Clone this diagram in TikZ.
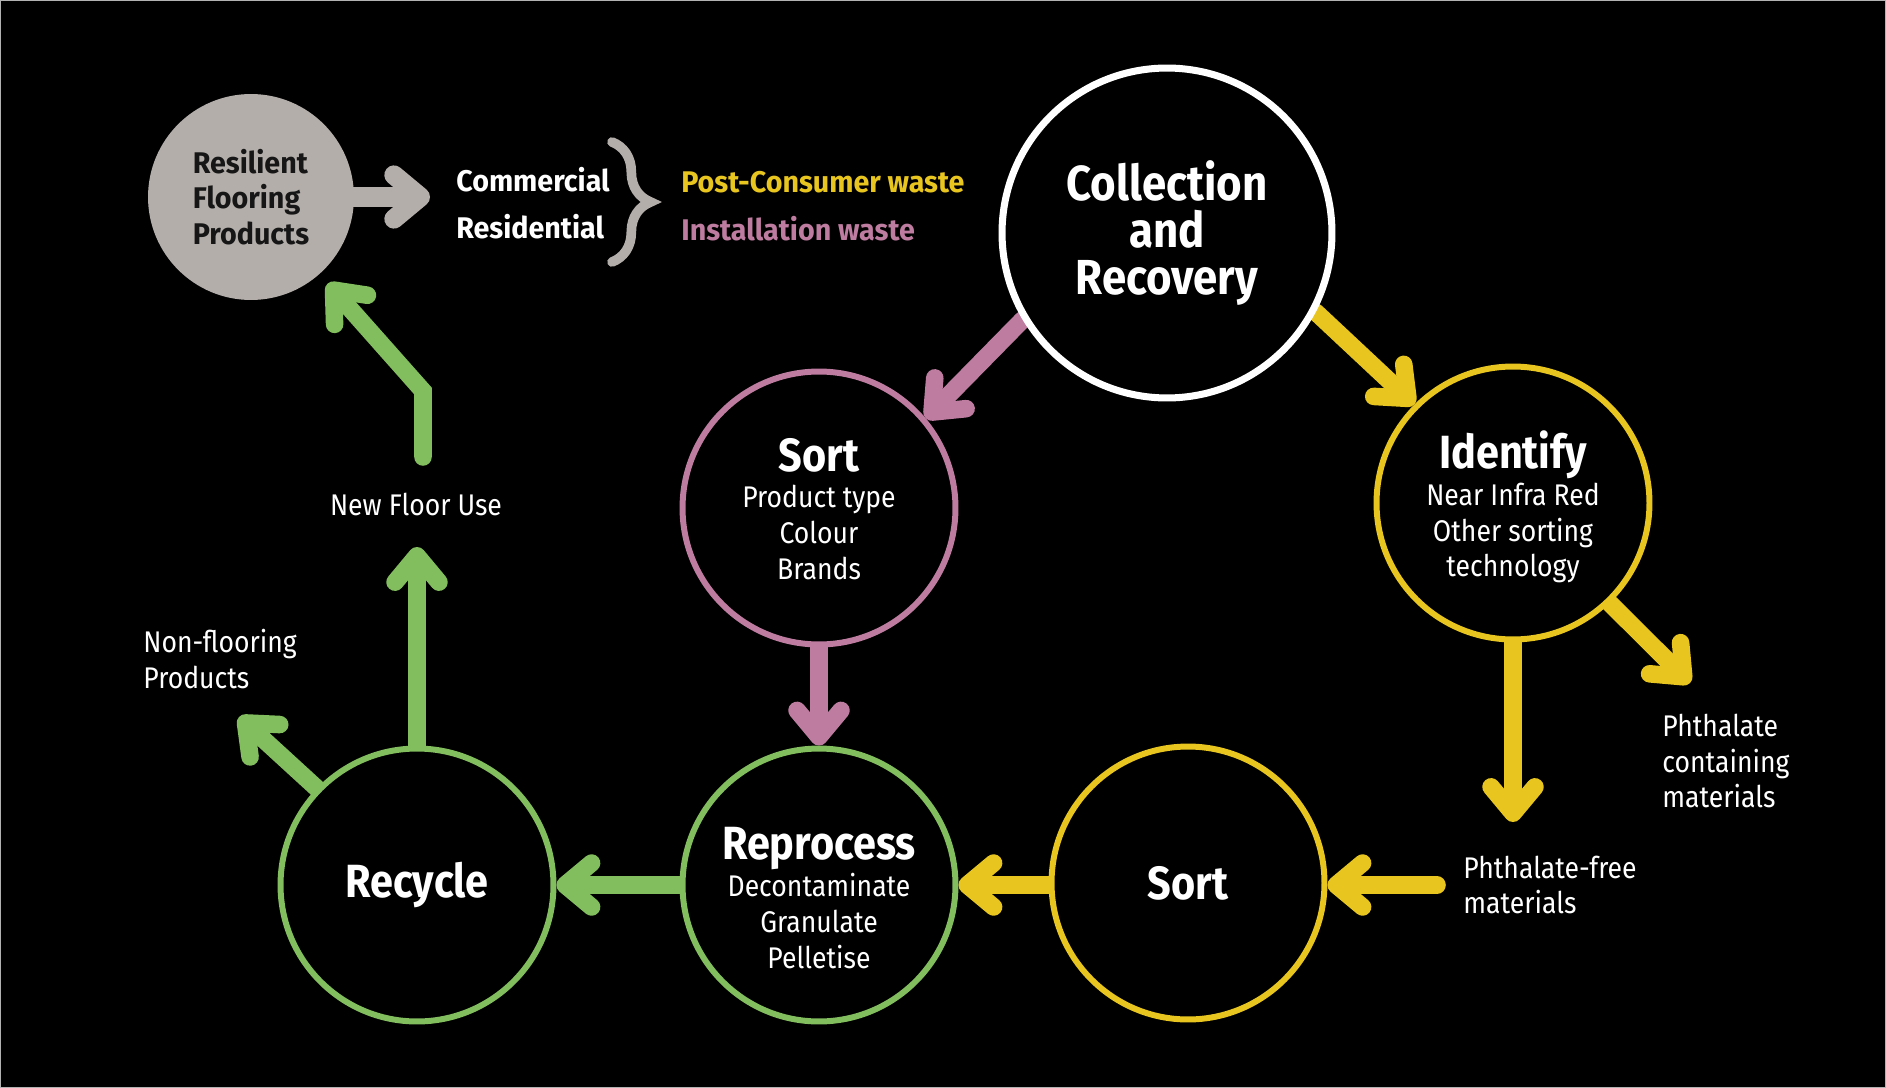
\documentclass[tikz,border=0pt]{standalone}
\usepackage{fontspec}
\setmainfont{Fira Sans}[FakeStretch=0.89]
\newfontfamily\widefam{Fira Sans}[FakeStretch=0.96]
\usetikzlibrary{arrows.meta,decorations.pathreplacing,backgrounds}

\definecolor{cyel}{HTML}{E8C51F}
\definecolor{cpink}{HTML}{BE7CA0}
\definecolor{cgreen}{HTML}{82BD5E}
\definecolor{cgray}{HTML}{B3AEAA}
\definecolor{cdark}{HTML}{161616}

\newcommand\clfont{\fontsize{28}{27}\selectfont\bfseries}
\newcommand\hdfont{\fontsize{26.5}{28}\selectfont\bfseries}
\newcommand\bdfont{\fontsize{17}{20.4}\selectfont}
\newcommand\smbfont{\widefam\fontsize{17}{20.4}\selectfont\bfseries}
% heading line of a stage, with a set top height
\newcommand\stagehead[2]{{\hdfont\rule{0pt}{#1}#2}}

\tikzset{
  stagecirc/.style={circle, draw, line width=3.4pt, fill=black, minimum size=5.46cm,
    inner sep=0pt, text=white, align=center, font=\bdfont},
  flowarrow/.style={line width=10pt, line cap=round,
    -{Straight Barb[round, length=15pt, width=25pt]}},
  lbl/.style={text=white, font=\bdfont, align=left, inner sep=0pt},
}

\begin{document}
\begin{tikzpicture}[x=0.02cm, y=-0.02cm]
  \useasboundingbox (0,0) rectangle (1886,1088);

  % stages
  \node[stagecirc, draw=white, line width=4pt, minimum size=6.6cm, font=\clfont]
    (coll) at (1167,233) {Collection\\and\\Recovery};
  \node[stagecirc, draw=cpink] (sortA) at (819,508)
    {\stagehead{20pt}{Sort}\\[0.5pt]Product type\\Colour\\Brands};
  \node[stagecirc, draw=cyel] (ident) at (1513,503)
    {\stagehead{26pt}{Identify}\\[0.5pt]Near Infra Red\\Other sorting\\technology};
  \node[stagecirc, draw=cyel, font=\hdfont] (sortB) at (1188,883) {Sort};
  \node[stagecirc, draw=cgreen] (repro) at (819,885)
    {\stagehead{33pt}{Reprocess}\\[0.5pt]Decontaminate\\Granulate\\Pelletise};
  \node[stagecirc, draw=cgreen, font=\hdfont] (recyc) at (417,885) {Recycle};
  \node[circle, fill=cgray, minimum size=4.12cm, inner sep=0pt, text=cdark,
    align=left, font=\smbfont] (res) at (251,197)
    {Resilient\\Flooring\\Products};

  % labels
  \node[lbl, anchor=west, font=\smbfont] (comm) at (456,180) {Commercial};
  \node[lbl, anchor=west, font=\smbfont] (resid) at (456,227) {Residential};
  \node[lbl, anchor=west, font=\smbfont, text=cyel] (post) at (681,182) {Post-Consumer waste};
  \node[lbl, anchor=west, font=\smbfont, text=cpink] (inst) at (681,229) {Installation waste};
  \node[lbl, align=center] (nfu) at (416,504) {New Floor Use};
  \node[lbl, anchor=west] (nonfl) at (143,659) {Non-flooring\\Products};
  \node[lbl, anchor=west] (pcont) at (1662,761) {Phthalate\\containing\\materials};
  \node[lbl, anchor=west] (pfree) at (1463,885) {Phthalate-free\\materials};

  % free ends of connectors
  \coordinate (grayTip) at (430,197);
  \coordinate (nfuTip) at (419,547);
  \coordinate (nfuStart) at (423,457);
  \coordinate (bend) at (423,391);
  \coordinate (nonflTip) at (239,717);
  \coordinate (pcTip) at (1690,683);
  \coordinate (pfTip) at (1513,822);
  \coordinate (pfStart) at (1437,885);

  % grouping brace
  \draw[cgray, line width=5.5pt, line cap=round, decorate,
    decoration={brace, amplitude=22pt}] (612,142) -- (612,262);

  % page, frame and connectors behind the stages
  \begin{scope}[on background layer]
    \fill[black] (0,0) rectangle (1886,1088);
    \draw[gray!60, line width=0.5pt] (0.5,0.5) rectangle (1885.5,1087.5);
    \draw[flowarrow, cgray, line width=11pt] (res.east) -- (grayTip);
    \draw[flowarrow, cpink] (coll.211) -- (sortA.40);
    \draw[flowarrow, cyel] (coll.-28) -- (ident.135);
    \draw[flowarrow, cpink] (sortA.south) -- (repro.north);
    \draw[flowarrow, cyel] (ident.south) -- (pfTip);
    \draw[flowarrow, cyel] (ident.-46) -- (pcTip);
    \draw[flowarrow, cyel] (pfStart) -- (sortB.east |- pfStart);
    \draw[flowarrow, cyel] (sortB.west |- repro) -- (repro.east);
    \draw[flowarrow, cgreen] (repro.west) -- (recyc.east);
    \draw[flowarrow, cgreen] (recyc.north) -- (recyc.north |- nfuTip);
    \draw[flowarrow, cgreen] (recyc.136) -- (nonflTip);
    \draw[flowarrow, cgreen, line join=miter, shorten >=7pt] (nfuStart) -- (bend) -- (res);
  \end{scope}
\end{tikzpicture}
\end{document}
